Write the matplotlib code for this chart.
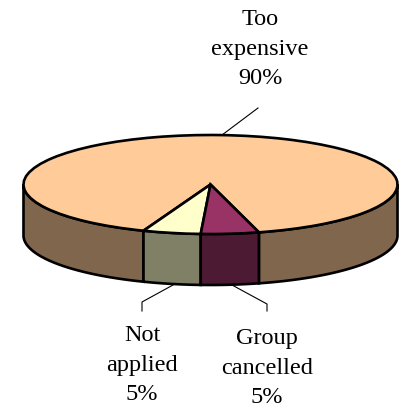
import numpy as np
from matplotlib import pyplot as plt

labels = ['Too\nexpensive\n90%', 'Not\napplied\n5%', 'Group\ncancelled\n5%']
values = [90, 5, 5]
top_colors = ['#FFCC99', '#FFFFCC', '#993366']
side_colors = ['#80664D', '#808066', '#4D1A33']

W, H = 400, 409
cx, cy = 210.5, 184.5
rx, ry = 187, 49.5
depth = 51 / ry
start = -75
edge = 1.9

fig = plt.figure(figsize=(W / 100, H / 100), dpi=100)
ax = fig.add_axes([0, 0, 1, 1])

# pie drawn in a squashed data space, so the circle comes out as an ellipse
ax.pie(values, colors=top_colors, startangle=start, radius=1,
       wedgeprops={'edgecolor': 'black', 'linewidth': edge, 'joinstyle': 'miter', 'zorder': 3})
ax.set_aspect('auto')
ax.set_xlim(-cx / rx, (W - cx) / rx)
ax.set_ylim(-(H - cy) / ry, cy / ry)
ax.axis('off')

# side wall, only the front half of the rim shows
angle = start
for val, col in zip(values, side_colors):
    a0, a1 = angle, angle + val * 3.6
    angle = a1
    for lo, hi in [(a0, a1), (a0 + 360, a1 + 360), (a0 - 360, a1 - 360)]:
        lo, hi = max(lo, 180), min(hi, 360)
        if hi <= lo:
            continue
        t = np.radians(np.linspace(lo, hi, 80))
        xs = np.cos(t)
        ys = np.sin(t)
        ax.fill(np.r_[xs, xs[::-1]], np.r_[ys, ys[::-1] - depth], facecolor=col,
                edgecolor='black', linewidth=edge, joinstyle='miter', zorder=2)


def px(x, y):
    return x / W, 1 - y / H


def leader(points):
    xs, ys = zip(*[px(x, y) for x, y in points])
    fig.add_artist(plt.Line2D(xs, ys, color='black', linewidth=0.8))


leader([(222, 135), (258, 108)])
leader([(173, 285), (142, 302), (142, 311)])
leader([(232, 285), (267, 304), (267, 311)])

text_style = {'family': 'Liberation Serif', 'fontsize': 17.5, 'ha': 'center', 'va': 'center',
              'linespacing': 1.55, 'color': 'black'}
fig.text(*px(260, 49), labels[0], **text_style)
fig.text(*px(142, 365), labels[1], **text_style)
fig.text(*px(267, 368), labels[2], **text_style)

plt.savefig('out.png', dpi=100)
